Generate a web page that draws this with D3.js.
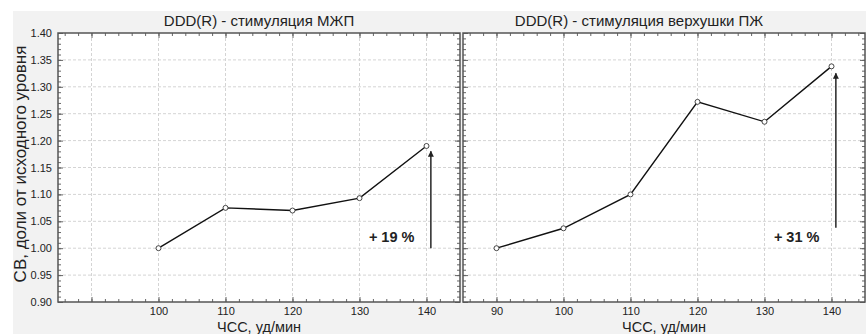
<!DOCTYPE html>
<html>
<head>
<meta charset="utf-8">
<script src="https://cdn.jsdelivr.net/npm/d3@7"></script>
<style>
  body { margin: 0; background: #fff; }
  svg { display: block; font-family: "Liberation Sans", Arial, sans-serif; }
</style>
</head>
<body>
<svg id="chart"></svg>
<script>
// data
const hrLeft = [100, 110, 120, 130, 140];
const svLeft = [1.00, 1.075, 1.070, 1.093, 1.19];
const hrRight = [90, 100, 110, 120, 130, 140];
const svRight = [1.00, 1.037, 1.10, 1.272, 1.235, 1.338];
const titles = ['DDD(R) - стимуляция МЖП', 'DDD(R) - стимуляция верхушки ПЖ'];
const gains = ['+ 19 %', '+ 31 %'];
const arrowLeft = [1.00, 1.18];
const arrowRight = [1.038, 1.325];
const xTicksLeft = [100, 110, 120, 130, 140];
const xTicksRight = [90, 100, 110, 120, 130, 140];
const yTicks = [0.90, 0.95, 1.00, 1.05, 1.10, 1.15, 1.20, 1.25, 1.30, 1.35, 1.40];

const W = 866, H = 334;
const plotTop = 33, plotBottom = 302;

const svg = d3.select('#chart').attr('width', W).attr('height', H);

svg.append('rect')
  .attr('x', 13).attr('y', 11)
  .attr('width', W - 13).attr('height', H - 11)
  .attr('fill', '#f2f2f2');

const defs = svg.append('defs');
defs.append('marker')
  .attr('id', 'head')
  .attr('viewBox', '0 0 10 10')
  .attr('refX', 9).attr('refY', 5)
  .attr('markerWidth', 10).attr('markerHeight', 6)
  .attr('markerUnits', 'userSpaceOnUse')
  .attr('orient', 'auto')
  .append('path')
    .attr('d', 'M0,0 L10,5 L0,10 Z')
    .attr('fill', '#222');

const y = d3.scaleLinear().domain([0.9, 1.4]).range([plotBottom, plotTop]);

const panels = [
  { x0: 58, x1: 460, hr: hrLeft, sv: svLeft, ticks: xTicksLeft, arrow: arrowLeft, gain: gains[0], title: titles[0], titleX: 259, axisX: 259, yLabels: true },
  { x0: 463, x1: 865, hr: hrRight, sv: svRight, ticks: xTicksRight, arrow: arrowRight, gain: gains[1], title: titles[1], titleX: 639, axisX: 664, yLabels: false }
];

panels.forEach(p => {
  const x = d3.scaleLinear().domain([85, 145]).range([p.x0, p.x1]);
  const g = svg.append('g');

  g.append('rect')
    .attr('x', p.x0).attr('y', plotTop)
    .attr('width', p.x1 - p.x0).attr('height', plotBottom - plotTop)
    .attr('fill', '#fff');

  // grid
  const gx = d3.range(90, 145, 10);
  g.selectAll('.vgrid').data(gx).enter().append('line')
    .attr('x1', d => x(d)).attr('x2', d => x(d))
    .attr('y1', plotTop).attr('y2', plotBottom)
    .attr('stroke', '#d4d4d4').attr('stroke-dasharray', '3,2');
  g.selectAll('.hgrid').data(yTicks.slice(1, -1)).enter().append('line')
    .attr('x1', p.x0).attr('x2', p.x1)
    .attr('y1', d => y(d)).attr('y2', d => y(d))
    .attr('stroke', '#d4d4d4').attr('stroke-dasharray', '3,2');

  // inward ticks on all four sides
  const xMinor = d3.range(86, 145, 2);
  const yMinor = d3.range(91, 140, 1).map(v => v / 100);
  const tickAxis = (axis, t, tr, size) => {
    const a = g.append('g').attr('transform', tr)
      .call(axis.tickValues(t).tickSize(-size).tickFormat(''));
    a.select('.domain').remove();
    a.selectAll('line').attr('stroke', '#666');
  };
  tickAxis(d3.axisBottom(x), xMinor, `translate(0,${plotBottom})`, 3);
  tickAxis(d3.axisTop(x), xMinor, `translate(0,${plotTop})`, 3);
  tickAxis(d3.axisLeft(y), yMinor, `translate(${p.x0},0)`, 3);
  tickAxis(d3.axisRight(y), yMinor, `translate(${p.x1},0)`, 3);
  tickAxis(d3.axisBottom(x), gx, `translate(0,${plotBottom})`, 5);
  tickAxis(d3.axisTop(x), gx, `translate(0,${plotTop})`, 5);
  tickAxis(d3.axisLeft(y), yTicks, `translate(${p.x0},0)`, 5);
  tickAxis(d3.axisRight(y), yTicks, `translate(${p.x1},0)`, 5);

  g.append('rect')
    .attr('x', p.x0).attr('y', plotTop)
    .attr('width', p.x1 - p.x0).attr('height', plotBottom - plotTop)
    .attr('fill', 'none').attr('stroke', '#555').attr('stroke-width', 1.5);

  // tick labels
  const xl = g.append('g').attr('transform', `translate(0,${plotBottom})`)
    .call(d3.axisBottom(x).tickValues(p.ticks).tickSize(0).tickPadding(5));
  xl.select('.domain').remove();
  xl.selectAll('text').attr('font-size', 11).attr('fill', '#222')
    .attr('font-family', '"Liberation Sans", Arial, sans-serif');

  if (p.yLabels) {
    const yl = g.append('g').attr('transform', `translate(${p.x0},0)`)
      .call(d3.axisLeft(y).tickValues(yTicks).tickSize(0).tickPadding(6).tickFormat(d3.format('.2f')));
    yl.select('.domain').remove();
    yl.selectAll('text').attr('font-size', 11).attr('fill', '#222')
      .attr('font-family', '"Liberation Sans", Arial, sans-serif');
  }

  // series
  const pts = p.hr.map((h, i) => [h, p.sv[i]]);
  g.append('path').datum(pts)
    .attr('d', d3.line().x(d => x(d[0])).y(d => y(d[1])))
    .attr('fill', 'none').attr('stroke', '#111').attr('stroke-width', 1.4);
  g.selectAll('.pt').data(pts).enter().append('circle')
    .attr('cx', d => x(d[0])).attr('cy', d => y(d[1])).attr('r', 2.5)
    .attr('fill', '#fff').attr('stroke', '#333').attr('stroke-width', 0.9);

  // arrow + label
  g.append('line')
    .attr('x1', x(140.65)).attr('x2', x(140.65))
    .attr('y1', y(p.arrow[0])).attr('y2', y(p.arrow[1]))
    .attr('stroke', '#333').attr('stroke-width', 1.6)
    .attr('marker-end', 'url(#head)');
  g.append('text')
    .attr('x', x(131.4)).attr('y', y(1.021) + 5)
    .attr('font-size', 14.5).attr('font-weight', 'bold').attr('fill', '#222')
    .text(p.gain);

  // titles
  svg.append('text')
    .attr('x', p.titleX).attr('y', 26)
    .attr('text-anchor', 'middle').attr('font-size', 15).attr('fill', '#222')
    .text(p.title);
  svg.append('text')
    .attr('x', p.axisX).attr('y', 332)
    .attr('text-anchor', 'middle').attr('font-size', 14.5).attr('fill', '#222')
    .text('ЧСС, уд/мин');
});

svg.append('text')
  .attr('transform', 'translate(26,164) rotate(-90)')
  .attr('text-anchor', 'middle').attr('font-size', 17).attr('fill', '#222')
  .text('СВ, доли от исходного уровня');
</script>
</body>
</html>
